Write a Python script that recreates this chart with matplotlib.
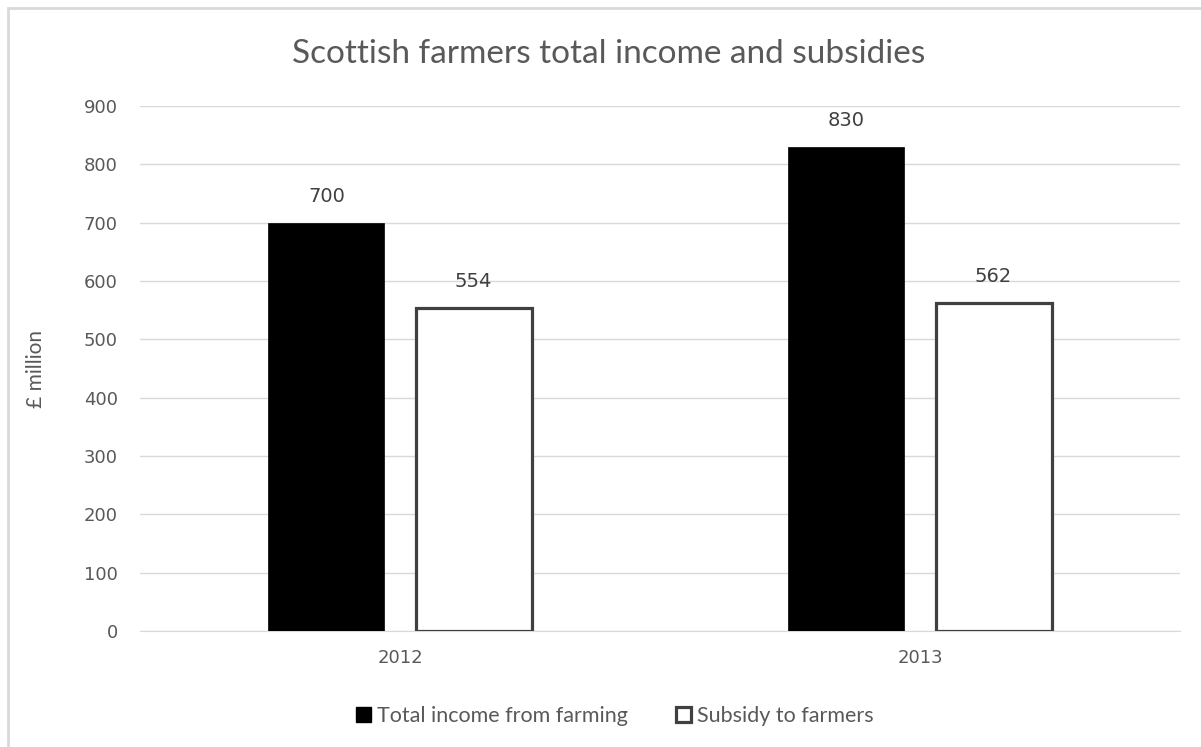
import matplotlib
matplotlib.use("Agg")
import matplotlib.pyplot as plt
from matplotlib.patches import Rectangle, Patch
import numpy as np

plt.rcParams['font.family'] = ['Lato', 'DejaVu Sans']

years = ["2012", "2013"]
total_income = [700, 830]
subsidy = [554, 562]
series_names = ["Total income from farming", "Subsidy to farmers"]
y_ticks = [0, 100, 200, 300, 400, 500, 600, 700, 800, 900]

fig = plt.figure(figsize=(12.01, 7.47), dpi=100)
# chart border
fig.patches.append(Rectangle((8/1201, -0.1), 1.2, 1 - 8/747 + 0.1, transform=fig.transFigure,
                             fill=False, edgecolor='#d9d9d9', linewidth=2, zorder=0))

ax = fig.add_axes([140/1201, 1 - 631/747, 1040/1201, 525/747])
x = np.arange(len(years))
w = 0.223
off = 0.1415
b1 = ax.bar(x - off, total_income, w, color='black', edgecolor='black', linewidth=0.5, zorder=3)
b2 = ax.bar(x + off, subsidy, w, color='white', edgecolor='#404040', linewidth=2.3, zorder=3)

num_font = 'DejaVu Sans'
for rects, vals in ((b1, total_income), (b2, subsidy)):
    for r, v in zip(rects, vals):
        ax.annotate(str(v), (r.get_x() + r.get_width()/2, v), xytext=(0, 12),
                    textcoords='offset points', ha='center', va='bottom',
                    fontsize=14, color='#404040', family=num_font)

ax.set_xlim(-0.5, 1.5)
ax.set_ylim(0, 900)
ax.set_yticks(y_ticks)
ax.set_xticks(x)
ax.set_xticklabels(years)
for lab in ax.get_xticklabels() + ax.get_yticklabels():
    lab.set_family(num_font)
ax.grid(axis='y', color='#d9d9d9', linewidth=1, zorder=0)
for s in ('top', 'right', 'left'):
    ax.spines[s].set_visible(False)
ax.spines['bottom'].set_color('#d9d9d9')
ax.tick_params(axis='both', length=0, labelsize=13, labelcolor='#595959')
ax.tick_params(axis='y', pad=16)
ax.tick_params(axis='x', pad=13)
ax.set_ylabel("£ million", fontsize=15, color='#595959')
ax.yaxis.set_label_coords(-0.09, 0.5)

fig.text(0.507, 1 - 54/747, "Scottish farmers total income and subsidies", ha='center', va='center',
         fontsize=24, color='#595959')

handles = [Patch(facecolor='black', edgecolor='black'),
           Patch(facecolor='white', edgecolor='#404040', linewidth=2.3)]
fig.legend(handles, series_names, loc='center', bbox_to_anchor=(0.512, 1 - 716/747), ncol=2,
           frameon=False, fontsize=15.5, labelcolor='#595959', handlelength=0.7, handleheight=0.7,
           handletextpad=0.3, columnspacing=2.2)

fig.savefig("out.png", dpi=100)
